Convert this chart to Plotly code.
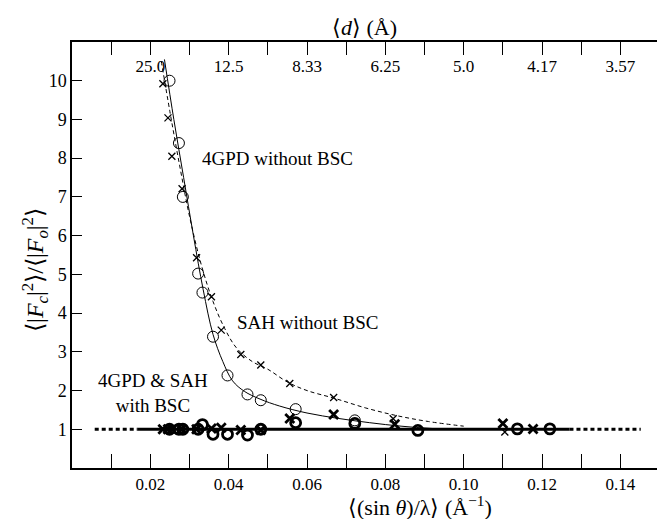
import plotly.graph_objects as go

# ---------------- data ----------------
# 4GPD without BSC (open circles, thin)
gpd_nobsc_s = [0.0249, 0.0273, 0.0283, 0.0322, 0.0333, 0.0360, 0.0397, 0.0448, 0.0482, 0.0571, 0.0722]
gpd_nobsc_v = [10.0, 8.39, 7.00, 5.02, 4.53, 3.39, 2.39, 1.90, 1.75, 1.52, 1.23]

# SAH without BSC (thin x)
sah_nobsc_s = [0.0232, 0.0245, 0.0255, 0.0281, 0.0318, 0.0356, 0.0381, 0.0431, 0.0482, 0.0556, 0.0668, 0.0820, 0.1105]
sah_nobsc_v = [9.92, 9.04, 8.05, 7.21, 5.43, 4.42, 3.56, 2.93, 2.66, 2.18, 1.82, 1.27, 0.93]

# 4GPD with BSC (bold circles)
gpd_bsc_s = [0.0249, 0.0273, 0.0283, 0.0322, 0.0333, 0.0360, 0.0397, 0.0448, 0.0482, 0.0571, 0.0722, 0.0883, 0.1137, 0.1220]
gpd_bsc_v = [1.00, 1.00, 1.00, 1.00, 1.12, 0.87, 0.87, 0.85, 1.00, 1.17, 1.15, 0.97, 1.01, 1.01]

# SAH with BSC (bold x)
sah_bsc_s = [0.0232, 0.0245, 0.0255, 0.0281, 0.0318, 0.0356, 0.0381, 0.0431, 0.0482, 0.0556, 0.0668, 0.0824, 0.1100, 0.1177]
sah_bsc_v = [1.00, 1.00, 1.00, 1.00, 1.00, 1.02, 1.04, 0.98, 0.98, 1.28, 1.38, 1.13, 1.15, 1.01]

# fitted curves
fit_gpd_s = [0.0236, 0.0260, 0.0285, 0.0310, 0.0335, 0.0360, 0.0385, 0.0410, 0.0440, 0.0480, 0.0530, 0.0600, 0.0680, 0.0760, 0.0840, 0.0920, 0.1000]
fit_gpd_v = [10.55, 9.00, 7.50, 6.00, 4.60, 3.45, 2.75, 2.25, 1.98, 1.78, 1.60, 1.42, 1.28, 1.17, 1.08, 1.02, 1.00]
fit_sah_s = [0.0228, 0.0250, 0.0275, 0.0300, 0.0330, 0.0360, 0.0390, 0.0420, 0.0460, 0.0500, 0.0550, 0.0600, 0.0670, 0.0750, 0.0830, 0.0910, 0.1000]
fit_sah_v = [10.50, 9.20, 7.80, 6.50, 5.25, 4.30, 3.60, 3.10, 2.75, 2.55, 2.22, 2.00, 1.80, 1.55, 1.35, 1.20, 1.08]

# unity reference line (with BSC): solid part and dotted extrapolations
unity_solid_s = [0.0168, 0.1270]
unity_left_s = [0.0058, 0.0168]
unity_right_s = [0.1270, 0.1452]
unity_v = [1.0, 1.0]

# axes
x_tick_vals = [0.01, 0.02, 0.03, 0.04, 0.05, 0.06, 0.07, 0.08, 0.09, 0.10, 0.11, 0.12, 0.13, 0.14]
x_tick_text = ["", "0.02", "", "0.04", "", "0.06", "", "0.08", "", "0.10", "", "0.12", "", "0.14"]
top_tick_text = ["", "25.0", "", "12.5", "", "8.33", "", "6.25", "", "5.0", "", "4.17", "", "3.57"]
y_tick_vals = [1, 2, 3, 4, 5, 6, 7, 8, 9, 10]
y_tick_text = ["1", "2", "3", "4", "5", "6", "7", "8", "9", "10"]

FONT = "Liberation Serif"
BLACK = "black"

fig = go.Figure()

fig.add_trace(go.Scatter(x=fit_gpd_s, y=fit_gpd_v, mode="lines", line=dict(color=BLACK, width=1, shape="spline")))
fig.add_trace(go.Scatter(x=fit_sah_s, y=fit_sah_v, mode="lines", line=dict(color=BLACK, width=1, dash="4px,3px", shape="spline")))
fig.add_trace(go.Scatter(x=unity_solid_s, y=unity_v, mode="lines", line=dict(color=BLACK, width=3.2)))
fig.add_trace(go.Scatter(x=unity_left_s, y=unity_v, mode="lines", line=dict(color=BLACK, width=3.2, dash="4px,3px")))
fig.add_trace(go.Scatter(x=unity_right_s, y=unity_v, mode="lines", line=dict(color=BLACK, width=3.2, dash="4px,3px")))

fig.add_trace(go.Scatter(x=gpd_nobsc_s, y=gpd_nobsc_v, mode="markers",
                         marker=dict(symbol="circle-open", size=11, color=BLACK, line=dict(width=1, color=BLACK))))
fig.add_trace(go.Scatter(x=sah_nobsc_s, y=sah_nobsc_v, mode="markers",
                         marker=dict(symbol="x-thin-open", size=7, color=BLACK, line=dict(width=1.3, color=BLACK))))
fig.add_trace(go.Scatter(x=gpd_bsc_s, y=gpd_bsc_v, mode="markers",
                         marker=dict(symbol="circle-open", size=10, color=BLACK, line=dict(width=2.8, color=BLACK))))
fig.add_trace(go.Scatter(x=sah_bsc_s, y=sah_bsc_v, mode="markers",
                         marker=dict(symbol="x-thin-open", size=9, color=BLACK, line=dict(width=2.8, color=BLACK))))
# invisible trace on top axis so it renders
fig.add_trace(go.Scatter(x=[x_tick_vals[0]], y=[unity_v[0]], xaxis="x2", mode="markers",
                         marker=dict(opacity=0), hoverinfo="skip"))

XR = [0.0, 0.14935]
TF = dict(family=FONT, size=17, color=BLACK)
fig.update_layout(
    width=657, height=519,
    margin=dict(l=72, r=0, t=42, b=51),
    paper_bgcolor="white", plot_bgcolor="white",
    showlegend=False,
    font=dict(family=FONT, size=17, color=BLACK),
    xaxis=dict(range=XR, tickmode="array", tickvals=x_tick_vals, ticktext=x_tick_text,
               ticks="inside", ticklen=14, tickwidth=1.2, tickcolor=BLACK,
               showline=True, linewidth=1.5, linecolor=BLACK, mirror=False,
               showgrid=False, zeroline=False, tickfont=TF),
    xaxis2=dict(range=XR, overlaying="x", side="top", anchor="y", tickmode="array",
                tickvals=x_tick_vals, ticktext=top_tick_text,
                ticks="inside", ticklen=13, tickwidth=1.2, tickcolor=BLACK,
                ticklabelposition="inside", ticklabelstandoff=6,
                showline=True, linewidth=1.5, linecolor=BLACK,
                showgrid=False, zeroline=False, tickfont=TF),
    yaxis=dict(range=[0, 11], tickmode="array", tickvals=y_tick_vals, ticktext=y_tick_text,
               ticks="inside", ticklen=10, tickwidth=1.2, tickcolor=BLACK,
               showline=True, linewidth=1.5, linecolor=BLACK, mirror=False,
               showgrid=False, zeroline=False, tickfont=dict(family=FONT, size=18, color=BLACK)),
)

annotations = [
    dict(text="4GPD without BSC", x=0.0326, y=8.0, xanchor="left", yanchor="middle"),
    dict(text="SAH without BSC", x=0.0415, y=3.77, xanchor="left", yanchor="middle"),
    dict(text="4GPD &amp; SAH<br>with BSC", x=0.0207, y=1.94, xanchor="center", yanchor="middle"),
]
for a in annotations:
    fig.add_annotation(xref="x", yref="y", showarrow=False, align="center",
                       font=dict(family=FONT, size=19, color=BLACK), **a)

# axis titles
fig.add_annotation(xref="paper", yref="paper", x=0.5, y=1.0 + 15 / 426, xanchor="center", yanchor="middle",
                   showarrow=False, text="⟨<i>d</i>⟩ (Å)", font=dict(family=FONT, size=22, color=BLACK))
fig.add_annotation(xref="paper", yref="paper", x=0.595, y=-38 / 426, xanchor="center", yanchor="middle",
                   showarrow=False, text="⟨(sin <i>θ</i>)/λ⟩ (Å<sup>−1</sup>)", font=dict(family=FONT, size=22, color=BLACK))
fig.add_annotation(xref="paper", yref="paper", x=-37 / 585, y=0.465, xanchor="center", yanchor="middle",
                   textangle=-90, showarrow=False,
                   text="⟨|<i>F</i><sub><i>c</i></sub>|<sup>2</sup>⟩/⟨|<i>F</i><sub><i>o</i></sub>|<sup>2</sup>⟩",
                   font=dict(family=FONT, size=24, color=BLACK))

fig.write_html("out.html", config={"displayModeBar": False},
               post_script="document.body.style.margin='0px';")
